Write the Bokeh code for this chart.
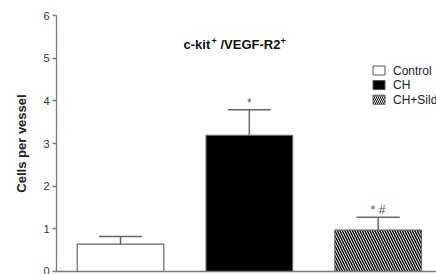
from bokeh.plotting import figure
from bokeh.models import Range1d, FixedTicker, Label
from bokeh.core.properties import value
from bokeh.embed import file_html
from bokeh.resources import INLINE

# ---- data ----
groups = ["Control", "CH", "CH+Sildenafil"]
means = [0.64, 3.19, 0.97]
sems = [0.18, 0.60, 0.30]
sig_marks = ["", "*", "* #"]
y_ticks = [0, 1, 2, 3, 4, 5, 6]
title_parts = ["c-kit", "+", "/VEGF-R2", "+"]

positions = [1, 2, 3]
fills = ["white", "black", "white"]
hatches = [" ", " ", "\\"]
FONT = "Liberation Sans"

# ---- layout ----
W, H = 436, 274
ML, MR, MT, MB = 56, 0, 15, 3
X0, X1 = 0.503, 3.453
UX = (W - ML - MR) / (X1 - X0)
UY = (H - MT - MB) / 6.0


def xd(px):  # canvas pixel -> data x (annotation placement only)
    return X0 + (px - ML) / UX


def yd(py):  # canvas pixel -> data y
    return (H - MB - py) / UY


p = figure(width=W, height=H, x_range=Range1d(X0, X1), y_range=Range1d(0, 6),
           output_backend="svg", toolbar_location=None,
           min_border_left=ML, min_border_right=MR, min_border_top=MT, min_border_bottom=MB)
p.outline_line_color = None
p.grid.visible = False
p.background_fill_color = "white"

AX = "#7a7a7a"
# x axis: only the line
p.xaxis.ticker = FixedTicker(ticks=[])
p.xaxis.major_label_text_font_size = "0px"
p.xaxis.major_tick_line_color = None
p.xaxis.minor_tick_line_color = None
p.xaxis.major_label_standoff = 0
p.xaxis.axis_line_color = AX
p.xaxis.axis_line_width = 1.3

# y axis
p.yaxis.ticker = FixedTicker(ticks=y_ticks)
p.yaxis.minor_tick_line_color = None
p.yaxis.major_tick_in = 0
p.yaxis.major_tick_out = 4
p.yaxis.major_tick_line_color = AX
p.yaxis.axis_line_color = AX
p.yaxis.axis_line_width = 1.3
p.yaxis.major_tick_line_width = 1.3
p.yaxis.major_label_standoff = 3
p.yaxis.major_label_text_font = FONT
p.yaxis.major_label_text_font_size = "11px"
p.yaxis.major_label_text_color = "#333333"
p.yaxis.axis_label = "Cells per vessel"
p.yaxis.axis_label_text_font = FONT
p.yaxis.axis_label_text_font_style = "bold"
p.yaxis.axis_label_text_font_size = "13px"
p.yaxis.axis_label_text_color = "#222222"
p.yaxis.axis_label_standoff = 11

# bars
p.vbar(x=positions, top=means, width=0.672, bottom=0,
       fill_color=fills, line_color="#666666", line_width=1.2,
       hatch_pattern=hatches, hatch_color="black", hatch_scale=5, hatch_weight=1.4)

# error bars (upper only)
tops = [m + s for m, s in zip(means, sems)]
cap_half = 0.167
p.segment(x0=positions, y0=means, x1=positions, y1=tops, line_color="#666666", line_width=1.5)
p.segment(x0=[x - cap_half for x in positions], y0=tops,
          x1=[x + cap_half for x in positions], y1=tops,
          line_color="#666666", line_width=1.5)

# significance marks
p.text(x=positions, y=tops, text=sig_marks, text_align="center", text_baseline="middle",
       y_offset=-7, text_font=value(FONT), text_font_size="12px", text_color="#555555")

# title (with superscripts)
tx = [183, 211, 220, 280]
ty = [44, 40.5, 44, 40.5]
tsz = ["13px", "9px", "13px", "9px"]
for t, x, y, s in zip(title_parts, tx, ty, tsz):
    p.add_layout(Label(x=xd(x), y=yd(y), text=t, text_font=FONT, text_font_size=s,
                       text_font_style="bold", text_color="#111111",
                       text_align="left", text_baseline="alphabetic"))

# legend
leg_y = [yd(70 + 14.6 * i) for i in range(len(groups))]
p.rect(x=[xd(378.5)] * len(groups), y=leg_y, width=12, height=9,
       width_units="screen", height_units="screen",
       fill_color=fills, line_color="#555555", line_width=1,
       hatch_pattern=hatches, hatch_color="black", hatch_scale=4, hatch_weight=1)
p.text(x=[xd(392.5)] * len(groups), y=leg_y, text=groups, text_baseline="middle",
       text_align="left", text_font=value(FONT), text_font_size="12px", text_color="#222222")

open("out.html", "w").write(file_html(p, INLINE))
